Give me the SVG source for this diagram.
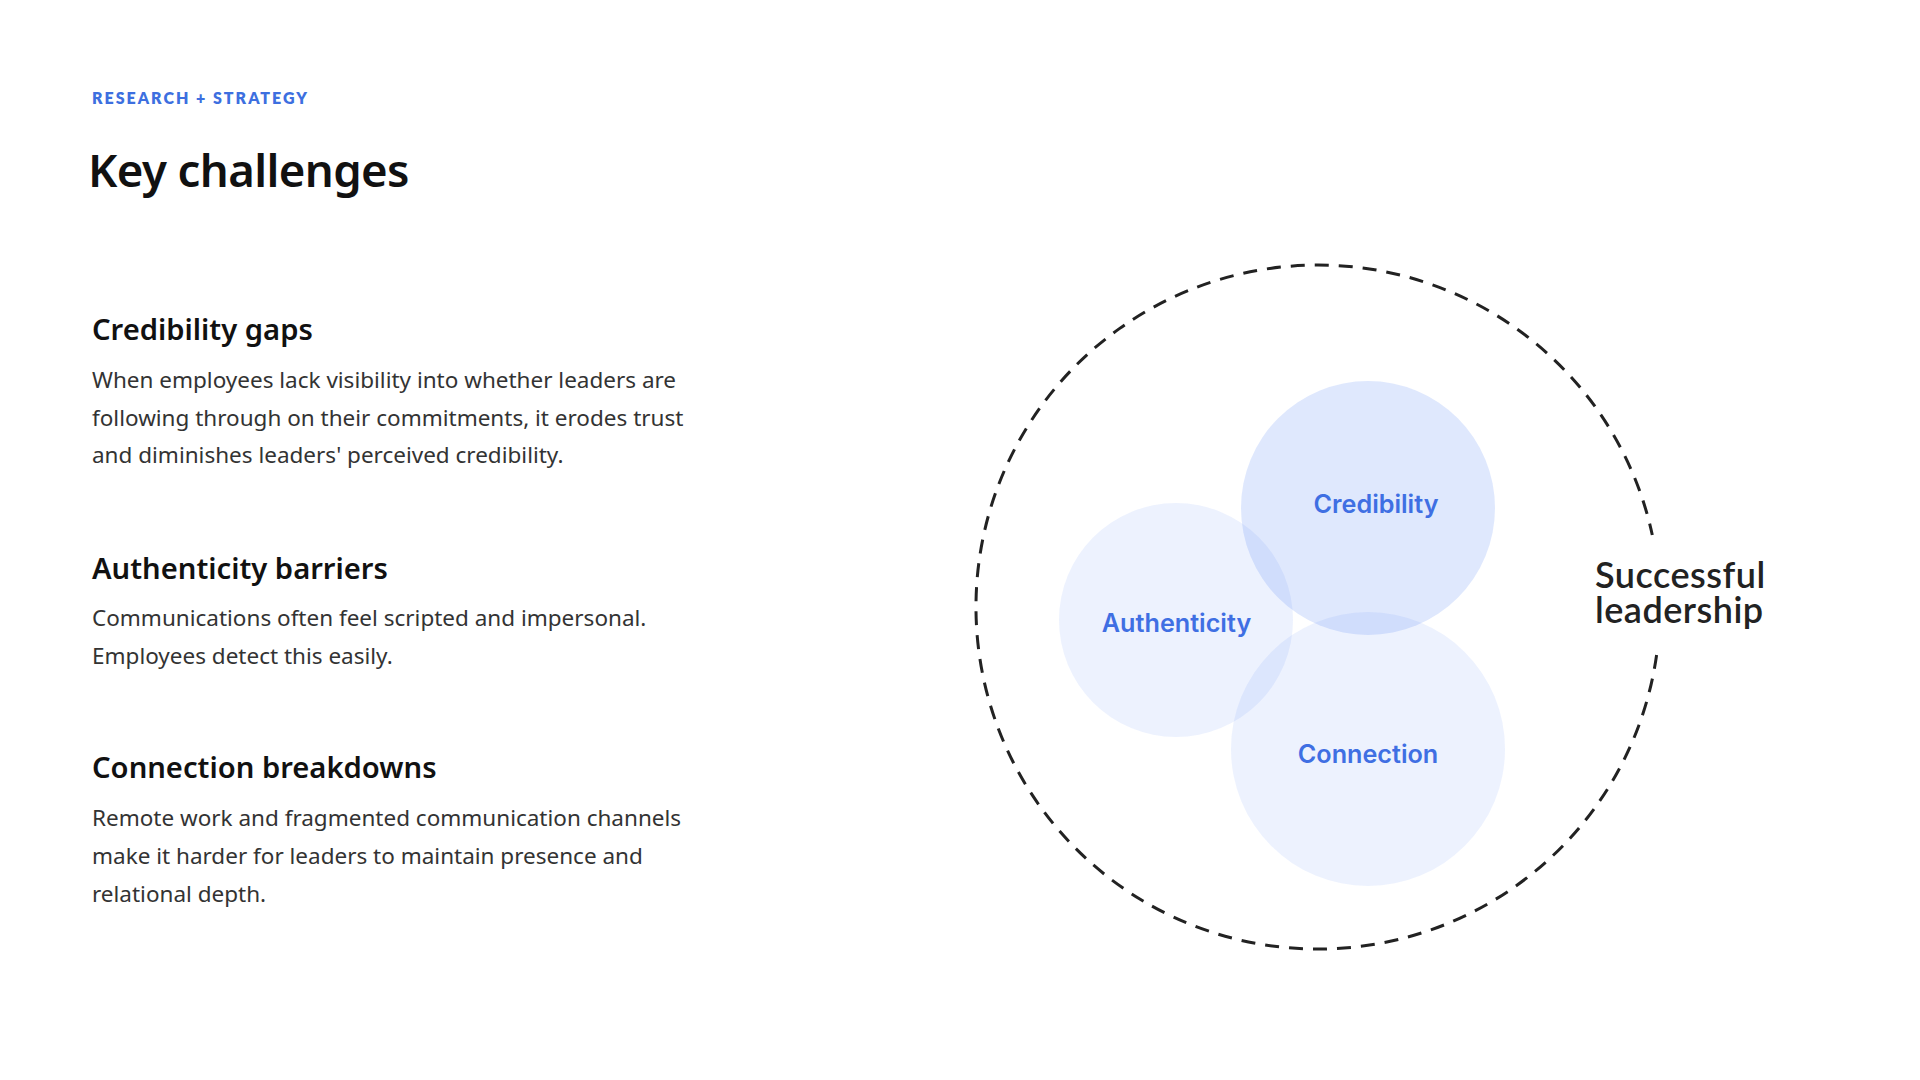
<svg xmlns="http://www.w3.org/2000/svg" width="1920" height="1080" viewBox="0 0 1920 1080">
  <style>
    .eyebrow { font-family: Lato, "Liberation Sans", sans-serif; font-weight: 800; font-size: 16px; letter-spacing: 2px; fill: #3D6FE0; }
    .title { font-family: "Noto Sans", "Open Sans", sans-serif; font-weight: 600; font-size: 45.5px; letter-spacing: -0.6px; fill: #111111; }
    .head { font-family: "Noto Sans", "Open Sans", sans-serif; font-weight: 600; font-size: 29.2px; fill: #111111; }
    .body { font-family: "Noto Sans", "Open Sans", sans-serif; font-weight: 400; font-size: 22.5px; fill: #333333; }
    .label { font-family: Inter, Roboto, sans-serif; font-weight: 600; font-size: 25.2px; fill: #3F6FE3; text-anchor: middle; }
    .outer { font-family: Lato, "Liberation Sans", sans-serif; font-weight: 600; font-size: 36px; letter-spacing: 0.5px; fill: #222222; }
    .ring { fill: none; stroke: #222222; stroke-width: 3; stroke-dasharray: 14 10; }
    .bubble { fill: #3B72F4; }
  </style>
  <rect x="0" y="0" width="1920" height="1080" fill="#FFFFFF"/>

  <g id="header">
    <text class="eyebrow" x="92" y="104">RESEARCH + STRATEGY</text>
    <text class="title" x="88" y="187">Key challenges</text>
  </g>

  <g id="challenge-credibility">
    <text class="head" x="92" y="340">Credibility gaps</text>
    <text class="body" x="92" y="388">When employees lack visibility into whether leaders are</text>
    <text class="body" x="92" y="426">following through on their commitments, it erodes trust</text>
    <text class="body" x="92" y="463">and diminishes leaders' perceived credibility.</text>
  </g>

  <g id="challenge-authenticity">
    <text class="head" x="92" y="579">Authenticity barriers</text>
    <text class="body" x="92" y="626">Communications often feel scripted and impersonal.</text>
    <text class="body" x="92" y="664">Employees detect this easily.</text>
  </g>

  <g id="challenge-connection">
    <text class="head" x="92" y="778">Connection breakdowns</text>
    <text class="body" x="92" y="826">Remote work and fragmented communication channels</text>
    <text class="body" x="92" y="864">make it harder for leaders to maintain presence and</text>
    <text class="body" x="92" y="902">relational depth.</text>
  </g>

  <g id="node-successful-leadership">
    <path class="ring" d="M 1656.6 655 A 342 342 0 1 1 1652.3 535"/>
    <text class="outer"><tspan x="1595" y="588">Successful</tspan><tspan x="1595" y="623">leadership</tspan></text>
  </g>

  <g id="node-authenticity">
    <circle class="bubble" cx="1176" cy="620" r="117" fill-opacity="0.092"/>
    <text class="label" x="1176.5" y="632">Authenticity</text>
  </g>

  <g id="node-connection">
    <circle class="bubble" cx="1368" cy="749" r="137" fill-opacity="0.092"/>
    <text class="label" x="1368" y="763">Connection</text>
  </g>

  <g id="node-credibility">
    <circle class="bubble" cx="1368" cy="508" r="127" fill-opacity="0.165"/>
    <text class="label" x="1376" y="513">Credibility</text>
  </g>

  <g id="connectors"></g>
</svg>
